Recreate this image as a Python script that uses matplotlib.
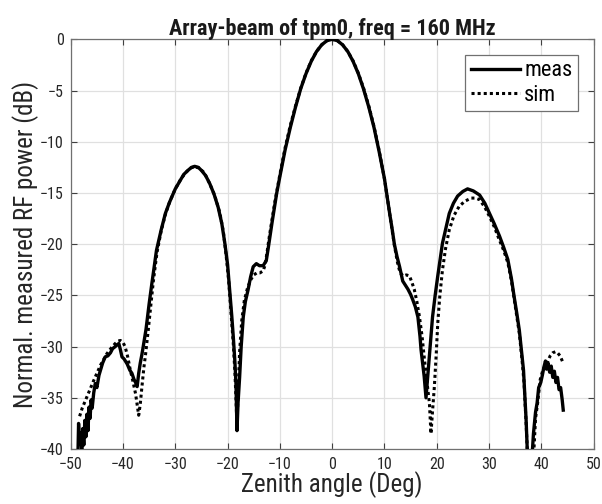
import matplotlib
matplotlib.use('Agg')
import matplotlib.pyplot as plt
from matplotlib import font_manager as fm


def pick(names):
    for n in names:
        try:
            fm.findfont(n, fallback_to_default=False)
            return n
        except Exception:
            pass
    return 'DejaVu Sans'


FONT = pick(['Liberation Sans Narrow', 'Roboto Condensed', 'Liberation Sans', 'Arial'])
plt.rcParams['font.family'] = [FONT, 'DejaVu Sans']

title = 'Array-beam of tpm0, freq = 160 MHz'
xlabel = 'Zenith angle (Deg)'
ylabel = 'Normal. measured RF power (dB)'
series_names = ['meas', 'sim']
xticks = [-50, -40, -30, -20, -10, 0, 10, 20, 30, 40, 50]
yticks = [-40, -35, -30, -25, -20, -15, -10, -5, 0]

meas_x = [-48.6, -48.5, -48.3, -48.1, -47.9, -47.7, -47.5, -47.3, -47.1, -46.9, -46.7, -46.5, -46.3,
          -46.1, -45.9, -45.6, -45.3, -45.0, -44.6, -44.3, -43.9, -43.4, -42.9, -42.4, -42.0, -41.5,
          -41.1, -40.8, -40.5, -40.2, -39.8, -39.2, -38.7, -38.3, -37.9, -37.6, -37.3, -37.0, -36.7,
          -36.4, -36.2, -35.6, -35.0, -34.5, -33.6, -32.7, -31.9, -31.1, -30.0, -29.2, -28.4, -27.6,
          -26.9, -26.3, -25.6, -25.0, -24.2, -23.4, -22.6, -21.8, -21.1, -20.5, -20.0, -19.6, -19.2,
          -18.9, -18.6, -18.4, -18.2, -18.0, -17.7, -17.4, -17.0, -16.6, -16.1, -15.6, -15.1, -14.5,
          -13.9, -13.2, -12.6, -12.2, -11.5, -11.0, -10.6, -10.0, -9.0, -8.0, -7.0, -6.0, -5.0, -4.0,
          -3.0, -2.0, -1.0, 0.0, 1.0, 2.0, 3.0, 4.0, 5.0, 6.0, 7.0, 8.0, 9.0, 10.0, 10.5, 11.0, 11.5,
          11.9, 12.4, 12.9, 13.5, 14.0, 14.5, 15.0, 15.4, 15.9, 16.4, 16.8, 17.0, 17.3, 17.6, 17.95,
          18.3, 18.6, 19.2, 19.7, 20.2, 21.1, 22.4, 23.2, 24.0, 25.0, 25.9, 27.0, 28.2, 29.2, 30.1,
          31.0, 32.0, 32.8, 33.6, 34.3, 34.8, 35.3, 35.8, 36.3, 36.6, 37.1, 37.35, 38.2, 38.5, 38.9,
          39.2, 39.5, 39.9, 40.2, 40.5, 40.8, 41.0, 41.3, 41.6, 41.9, 42.2, 42.5, 42.8, 43.1, 43.4,
          43.7, 44.0, 44.2]
meas_db = [-40.0, -37.5, -39.5, -38.4, -40.0, -38.0, -39.6, -37.2, -38.8, -36.6, -38.2, -35.9, -37.0,
           -35.2, -36.0, -34.5, -33.6, -34.0, -32.8, -32.3, -31.6, -31.0, -30.9, -30.6, -30.2, -30.0,
           -29.8, -29.7, -30.3, -31.0, -31.2, -31.7, -32.3, -32.6, -33.2, -33.5, -33.9, -32.6, -31.6,
           -30.8, -30.2, -28.3, -25.8, -23.9, -20.6, -18.6, -17.0, -15.9, -14.6, -13.9, -13.2, -12.8,
           -12.5, -12.4, -12.5, -12.8, -13.3, -14.1, -15.1, -16.4, -18.0, -20.0, -22.0, -24.5, -27.0,
           -29.1, -31.5, -33.6, -38.2, -35.5, -33.0, -30.0, -27.1, -25.6, -24.5, -23.2, -22.2, -21.9,
           -22.1, -22.1, -21.6, -20.3, -17.9, -16.3, -15.0, -13.4, -10.8, -8.6, -6.6, -4.8, -3.35, -2.15,
           -1.2, -0.54, -0.13, 0.0, -0.13, -0.54, -1.2, -2.15, -3.35, -4.85, -6.6, -8.6, -11.0, -13.6,
           -15.3, -17.0, -18.6, -20.0, -21.2, -22.2, -23.6, -24.0, -24.4, -24.9, -25.4, -26.1, -27.1,
           -29.0, -30.3, -31.6, -32.9, -35.0, -32.8, -31.0, -27.1, -25.0, -23.1, -19.9, -17.0, -16.0,
           -15.3, -14.85, -14.6, -14.8, -15.2, -16.0, -17.0, -18.0, -19.2, -20.3, -21.5, -23.4, -25.1,
           -26.7, -28.4, -30.8, -32.3, -37.2, -40.5, -41.0, -38.5, -36.4, -35.5, -34.0, -33.5, -32.8,
           -32.0, -31.4, -32.2, -31.6, -32.5, -31.9, -33.0, -32.4, -33.5, -33.0, -34.2, -34.0, -35.2,
           -36.2]

sim_x = [-48.3, -47.8, -46.9, -45.6, -44.3, -43.1, -42.2, -41.5, -40.9, -40.5, -40.0, -39.6, -39.1,
         -38.6, -38.1, -37.6, -37.2, -37.0, -36.7, -36.4, -36.0, -35.7, -35.2, -34.8, -34.2, -33.5,
         -32.7, -31.9, -31.1, -30.0, -29.0, -28.0, -27.0, -26.3, -25.5, -24.5, -23.5, -22.5, -21.5,
         -20.8, -20.3, -19.8, -19.3, -18.9, -18.6, -18.4, -18.2, -18.0, -17.7, -17.3, -16.8, -16.2,
         -15.6, -15.0, -14.4, -13.8, -13.2, -12.8, -12.4, -12.0, -11.5, -11.0, -10.5, -10.0, -9.0,
         -8.0, -7.0, -6.0, -5.0, -4.0, -3.0, -2.0, -1.0, 0.0, 1.0, 2.0, 3.0, 4.0, 5.0, 6.0, 7.0, 8.0,
         9.0, 10.0, 11.0, 11.9, 12.5, 13.0, 13.6, 14.2, 14.8, 15.3, 15.7, 16.2, 16.7, 17.2, 17.6,
         18.1, 18.6, 18.9, 19.2, 19.55, 19.9, 20.2, 20.6, 21.1, 21.7, 22.4, 23.3, 24.3, 25.4, 26.6,
         27.4, 28.2, 29.2, 30.1, 31.0, 32.0, 32.8, 33.6, 34.3, 34.8, 35.3, 35.8, 36.3, 36.7, 37.1,
         37.4, 38.5, 38.9, 39.3, 39.8, 40.3, 40.8, 41.2, 41.7, 42.2, 42.7, 43.1, 43.6, 44.1]
sim_db = [-36.8, -36.0, -34.9, -33.3, -31.8, -30.7, -30.1, -29.7, -29.45, -29.4, -29.6, -30.0, -31.0,
          -32.3, -33.4, -34.6, -36.0, -36.7, -35.6, -34.0, -32.0, -30.8, -28.5, -26.5, -23.6, -20.8,
          -18.7, -17.1, -15.9, -14.6, -13.7, -13.0, -12.55, -12.45, -12.55, -13.0, -14.0, -15.2, -16.9,
          -18.8, -21.0, -23.5, -27.0, -29.8, -32.5, -35.0, -37.8, -34.5, -30.5, -27.5, -25.5, -24.3,
          -23.5, -23.0, -22.8, -22.8, -22.6, -22.0, -20.6, -19.2, -17.6, -16.0, -14.6, -13.2, -10.6,
          -8.4, -6.5, -4.75, -3.3, -2.1, -1.2, -0.53, -0.13, 0.0, -0.13, -0.53, -1.2, -2.1, -3.3, -4.75,
          -6.5, -8.5, -10.9, -13.6, -17.0, -20.1, -21.8, -22.8, -23.1, -23.0, -23.1, -23.8, -24.4,
          -25.6, -27.1, -29.0, -31.0, -33.3, -35.5, -38.5, -36.3, -33.9, -30.8, -27.7, -25.0, -22.5,
          -20.4, -18.6, -17.2, -16.3, -15.8, -15.5, -15.5, -15.65, -16.4, -17.3, -18.3, -19.6, -20.6,
          -21.8, -23.6, -25.3, -27.0, -28.7, -31.2, -33.5, -37.5, -41.0, -41.0, -37.0, -35.5, -33.2,
          -32.3, -31.8, -31.5, -30.9, -30.6, -30.5, -30.6, -30.9, -31.5]

fig = plt.figure(figsize=(6.02, 5.04), dpi=100)
ax = fig.add_axes([0.1175, 0.109, 0.8685, 0.813])

ax.plot(meas_x, meas_db, color='black', lw=2.4, ls='-', label=series_names[0], zorder=3)
ax.plot(sim_x, sim_db, color='black', lw=2.2, ls=(0, (1, 1)), label=series_names[1], zorder=3)

ax.set_xlim(-50, 50)
ax.set_ylim(-40, 0)
ax.set_xticks(xticks)
ax.set_yticks(yticks)
ax.grid(True, color='#e0e0e0', lw=0.9)
ax.set_axisbelow(True)
ax.tick_params(direction='in', top=True, right=True, length=4, width=0.8,
               colors='#404040', labelsize=11.5, labelcolor='#262626')
ax.tick_params(axis='x', pad=6)
ax.tick_params(axis='y', pad=5)
for s in ax.spines.values():
    s.set_color('#707070')
    s.set_linewidth(0.9)

ax.set_title(title, fontsize=16, fontweight='bold', color='#1a1a1a', pad=3)
ax.set_xlabel(xlabel, fontsize=18, color='#262626', labelpad=-1)
ax.set_ylabel(ylabel, fontsize=18, color='#262626', labelpad=1)

leg = ax.legend(loc='upper right', fontsize=16, handlelength=2.2, handletextpad=0.2,
                borderpad=0.25, labelspacing=0.15, fancybox=False, framealpha=1,
                edgecolor='#707070', borderaxespad=0.7)
leg.get_frame().set_linewidth(0.9)

fig.savefig('out.png', dpi=100)
